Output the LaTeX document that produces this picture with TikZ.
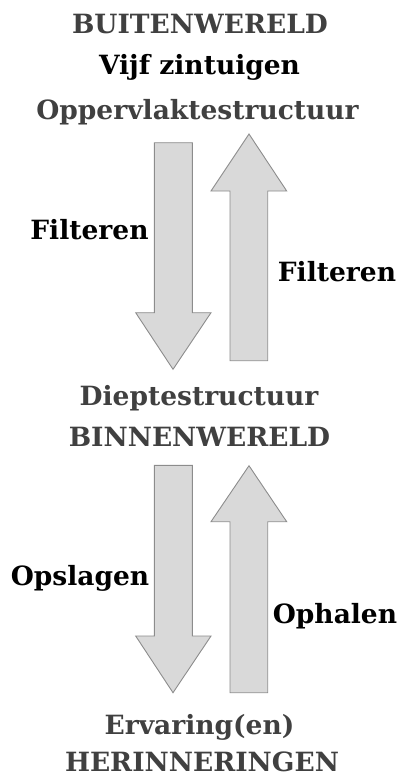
\documentclass[tikz,border=0pt]{standalone}
\usepackage{fontspec}
\setmainfont{DejaVu Serif}
\definecolor{headgray}{HTML}{404040}
\definecolor{arrfill}{HTML}{D9D9D9}
\definecolor{arrline}{HTML}{8C8C8C}
\begin{document}
\begin{tikzpicture}[x=1pt,y=-1pt,
  head/.style={anchor=base,inner sep=0pt,font=\fontsize{26.5}{30}\selectfont\bfseries,text=headgray},
  blk/.style={anchor=base,inner sep=0pt,font=\fontsize{26.5}{30}\selectfont\bfseries,text=black},
  bigarrow/.style={fill=arrfill,draw=arrline,line width=0.9pt,line join=miter}]
\useasboundingbox (0,0) rectangle (400,777);
% texts
\node[head] (buiten) at (200,33) {BUITENWERELD};
\node[blk] (vijf) at (199.5,74) {Vijf zintuigen};
\node[head] (opp) at (197.5,119) {Oppervlaktestructuur};
\node[head] (diep) at (199,405) {Dieptestructuur};
\node[head] (binnen) at (199.5,446) {BINNENWERELD};
\node[head] (erv) at (199.5,734) {Ervaring(en)};
\node[head] (herin) at (202,771) {HERINNERINGEN};
\node[blk] (filt1) at (89.5,239) {Filteren};
\node[blk] (filt2) at (337,281) {Filteren};
\node[blk] (opsl) at (80,585) {Opslagen};
\node[blk] (ophal) at (335,623) {Ophalen};
% arrows
\draw[bigarrow] (154.3,142.7) -- (192.3,142.7) -- (192.3,312.7) -- (211,312.7) -- (173,369.3) -- (135.7,312.7) -- (154.3,312.7) -- cycle;
\draw[bigarrow] (249,134) -- (286.7,191) -- (267.7,191) -- (267.7,360.7) -- (230,360.7) -- (230,191) -- (211,191) -- cycle;
\draw[bigarrow] (154.3,465.3) -- (192.3,465.3) -- (192.3,636) -- (211,636) -- (173,692.7) -- (135.7,636) -- (154.3,636) -- cycle;
\draw[bigarrow] (249,465.7) -- (286.7,521.7) -- (267.7,521.7) -- (267.7,692.7) -- (230,692.7) -- (230,521.7) -- (211,521.7) -- cycle;
\end{tikzpicture}
\end{document}
